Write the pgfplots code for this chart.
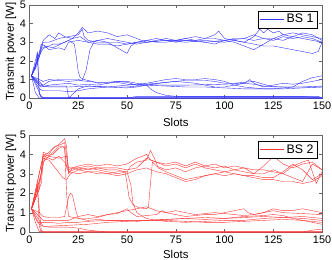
\documentclass[border=0pt]{standalone}
\usepackage{pgfplots}
\pgfplotsset{compat=1.18}
\usepackage{fontspec}
\setmainfont{Liberation Sans}
\begin{document}
\pgfplotsset{
  mybox/.style={
    scale only axis, width=295pt,
    xmin=0, xmax=150, ymin=0, ymax=5,
    xtick={0,25,50,75,100,125,150}, ytick={0,1,2,3,4,5},
    tick align=inside, xtick pos=both, ytick pos=both,
    major tick length=3pt,
    axis line style={black!60}, tick style={black!60},
    tick label style={font=\fontsize{11}{13}\selectfont},
    label style={font=\fontsize{11.5}{13}\selectfont},
    /pgf/number format/assume math mode=true,
    xlabel={Slots}, ylabel={Transmit power [W]},
    xlabel style={yshift=-2pt}, ylabel style={yshift=-3pt},
    legend style={at={(0.983,0.94)}, anchor=north east, draw=black, font=\fontsize{12.5}{14}\selectfont, inner sep=1.5pt, row sep=0pt},
    legend image code/.code={\draw[#1] (0pt,0pt) -- (25pt,0pt);},
    legend cell align=left,
    every axis plot/.append style={line width=0.4pt},
  },
}
\begin{tikzpicture}[x=1pt,y=1pt]
\path[use as bounding box] (0,0) rectangle (332,262);
\begin{axis}[mybox, at={(27pt,163pt)}, anchor=south west, height=94pt,
  cycle list={{blue!80!white}}]
\addplot coordinates {(1,1.2)(3,1.8)(5,2.4)(7,3.1)(10,3.4)(13,3.2)(15,3.5)(18,3.3)(22,3.2)(25,3.5)(27,3.8)(30,3.5)(35,3.6)(40,3.5)(45,3.3)(50,3.4)(55,3.2)(60,3.0)(65,3.1)(70,3.2)(75,3.1)(80,3.2)(85,3.3)(90,3.2)(95,3.4)(97,3.6)(100,3.2)(105,3.1)(110,3.0)(115,3.3)(118,3.7)(120,3.5)(122,3.7)(125,3.5)(128,3.6)(130,3.4)(135,3.3)(140,3.5)(145,3.4)(150,3.1)};
\legend{BS 1}
\addplot coordinates {(1,1.2)(4,2.0)(6,2.9)(8,2.8)(10,2.6)(15,2.7)(18,2.6)(20,3.0)(25,3.1)(30,3.0)(35,3.1)(40,3.0)(45,2.7)(50,2.4)(52,2.8)(55,3.0)(60,3.0)(70,3.1)(80,3.0)(90,3.1)(100,3.0)(105,3.1)(110,3.0)(115,2.9)(120,2.8)(125,2.8)(130,2.7)(135,2.6)(140,2.5)(145,2.4)(148,2.5)(150,3.0)};
\addplot coordinates {(1,1.2)(5,2.2)(7,3.0)(10,3.0)(15,3.2)(20,3.3)(25,3.4)(27,3.7)(28,3.3)(30,3.1)(35,3.0)(40,3.0)(45,3.0)(50,2.9)(55,3.0)(60,3.1)(65,3.0)(70,3.0)(75,3.1)(80,3.2)(85,3.1)(90,3.2)(95,3.2)(100,3.1)(105,3.2)(110,3.2)(115,3.4)(120,3.2)(125,3.1)(130,3.3)(135,3.2)(140,3.3)(145,3.2)(150,3.0)};
\addplot coordinates {(1,1.2)(6,2.5)(8,2.8)(12,2.7)(16,2.9)(20,3.1)(23,2.9)(24,2.2)(25,1.4)(26,1.1)(28,1.0)(32,0.9)(35,0.8)(40,0.85)(45,0.9)(50,0.9)(55,0.8)(60,0.75)(65,0.8)(70,0.85)(75,0.9)(80,0.85)(85,0.8)(90,0.7)(95,0.6)(100,0.6)(105,0.7)(110,0.8)(113,1.0)(115,0.8)(120,0.6)(125,0.7)(130,0.8)(135,0.75)(140,0.8)(145,0.9)(150,1.0)};
\addplot coordinates {(1,1.2)(5,0.8)(7,0.7)(10,0.9)(15,1.0)(20,1.0)(25,1.0)(27,0.95)(29,1.5)(31,2.6)(33,3.0)(35,3.1)(40,3.2)(45,3.1)(50,3.0)(55,2.9)(60,3.0)(70,3.1)(80,3.1)(90,3.0)(100,3.1)(110,3.2)(115,3.1)(120,3.2)(125,3.2)(130,3.1)(135,3.3)(140,3.2)(145,3.1)(150,3.0)};
\addplot coordinates {(1,1.2)(4,1.8)(6,2.7)(8,2.7)(12,2.9)(15,2.9)(18,3.0)(22,3.2)(26,3.3)(30,3.0)(35,2.9)(40,2.9)(45,2.8)(50,2.9)(55,3.0)(60,3.1)(65,3.2)(70,3.1)(75,3.0)(80,3.1)(85,3.1)(90,3.0)(95,2.9)(100,3.1)(105,3.0)(110,2.8)(115,2.6)(120,2.9)(125,3.2)(130,3.4)(135,3.5)(140,3.4)(145,3.3)(150,3.2)};
\addplot coordinates {(1,1.2)(4,0.8)(6,0.6)(10,0.7)(15,0.75)(20,0.8)(25,0.7)(30,0.75)(35,0.7)(40,0.8)(45,0.9)(50,0.85)(55,0.7)(60,0.8)(65,0.9)(70,1.0)(75,1.05)(80,1.0)(85,1.0)(90,1.05)(95,1.0)(100,0.9)(105,0.7)(110,0.6)(115,0.55)(120,0.5)(125,0.5)(130,0.55)(135,0.6)(140,0.9)(145,1.1)(150,1.2)};
\addplot coordinates {(1,1.2)(5,0.9)(7,0.65)(10,0.6)(20,0.6)(30,0.65)(40,0.6)(50,0.55)(55,0.6)(60,0.7)(70,0.85)(80,0.95)(90,0.95)(95,0.9)(100,0.8)(105,0.8)(110,0.85)(115,0.9)(120,0.75)(125,0.6)(130,0.6)(140,0.6)(150,0.6)};
\addplot coordinates {(1,1.2)(5,0.5)(7,0.4)(10,0.4)(15,0.4)(20,0.35)(25,0.4)(30,0.5)(40,0.6)(50,0.7)(55,0.75)(60,0.7)(62,0.5)(65,0.3)(70,0.15)(75,0.1)(80,0.1)(90,0.1)(100,0.1)(110,0.1)(120,0.1)(130,0.1)(140,0.1)(145,0.05)(150,0.0)};
\addplot coordinates {(1,1.2)(5,1.0)(7,0.9)(10,1.0)(15,0.95)(20,0.9)(25,0.95)(30,0.9)(35,0.85)(40,0.8)(45,0.85)(50,0.75)(55,0.7)(60,0.72)(70,0.7)(80,0.7)(90,0.72)(100,0.75)(110,0.8)(115,0.75)(120,0.65)(130,0.6)(140,0.6)(150,0.65)};
\addplot coordinates {(1,1.2)(5,0.7)(7,0.65)(10,0.65)(15,0.65)(19,0.65)(20,0.05)(22,0.0)(150,0.0)};
\addplot coordinates {(1,1.2)(3,0.3)(5,0.0)(10,0.0)(20,0.0)(22,0.2)(25,0.5)(28,0.6)(30,0.65)(40,0.6)(50,0.6)(55,0.65)(60,0.7)(70,0.65)(80,0.6)(90,0.6)(100,0.55)(110,0.5)(120,0.5)(130,0.5)(140,0.55)(150,0.6)};
\addplot coordinates {(1,1.2)(3,1.6)(4,2.5)(5,0.3)(6,0.0)(150,0.0)};
\addplot coordinates {(1,1.2)(6,0.1)(7,0.0)(50,0.0)(55,0.1)(60,0.1)(70,0.1)(100,0.1)(120,0.1)(140,0.1)(148,0.1)(150,0.0)};
\addplot coordinates {(1,1.2)(4,2.4)(5,0.2)(7,0.03)(150,0.03)};
\end{axis}
\begin{axis}[mybox, at={(27pt,28pt)}, anchor=south west, height=98pt,
  cycle list={{red!80!white}}, xlabel style={yshift=1.5pt}]
\addplot coordinates {(1,1.2)(4,2.0)(6,3.0)(7,4.1)(10,4.0)(12,4.3)(15,4.5)(17,4.7)(18,4.8)(19,4.4)(20,3.0)(22,3.3)(25,3.4)(30,3.5)(35,3.4)(40,3.5)(45,3.4)(50,3.5)(55,3.8)(58,3.9)(60,4.0)(62,3.7)(65,3.6)(70,3.5)(75,3.6)(80,3.4)(85,3.6)(90,3.4)(95,3.3)(100,3.4)(105,3.2)(110,3.3)(115,3.0)(120,3.4)(125,3.9)(130,3.5)(135,3.3)(140,3.5)(145,3.6)(150,3.2)};
\legend{BS 2}
\addplot coordinates {(1,1.2)(5,2.2)(7,4.0)(10,3.9)(13,4.2)(15,4.4)(18,4.4)(19,2.0)(20,0.8)(25,0.7)(30,0.6)(35,0.65)(40,0.6)(50,0.6)(55,0.55)(60,0.6)(70,0.65)(80,0.7)(90,0.75)(100,0.7)(110,0.75)(120,0.8)(130,0.75)(140,0.8)(150,0.7)};
\addplot coordinates {(1,1.2)(6,3.5)(7,3.9)(10,3.8)(12,3.7)(15,3.9)(18,3.6)(20,3.2)(22,3.3)(25,3.2)(30,3.3)(35,3.2)(40,3.1)(45,3.0)(50,3.1)(52,3.4)(55,3.6)(60,3.7)(62,4.2)(64,3.8)(66,3.3)(70,3.1)(75,2.9)(80,2.7)(85,2.8)(90,2.9)(95,3.0)(100,2.9)(105,3.0)(110,2.9)(115,2.8)(120,2.7)(125,2.7)(130,2.6)(135,2.6)(140,2.5)(145,2.6)(150,2.9)};
\addplot coordinates {(1,1.2)(6,3.0)(7,3.8)(10,3.7)(14,3.2)(17,2.8)(19,2.7)(21,3.0)(25,3.2)(30,3.1)(35,3.1)(40,3.0)(45,3.1)(50,3.1)(52,2.4)(53,1.5)(55,1.0)(58,0.8)(60,0.7)(65,0.6)(70,0.55)(80,0.5)(90,0.55)(100,0.6)(110,0.6)(120,0.7)(130,0.75)(140,0.7)(150,0.6)};
\addplot coordinates {(1,1.2)(6,3.0)(8,3.9)(12,4.0)(15,4.3)(17,4.4)(18,4.3)(19,3.3)(20,3.1)(25,3.3)(30,3.2)(35,3.3)(40,3.2)(45,3.2)(49,3.1)(50,2.5)(51,1.8)(53,1.4)(56,1.25)(60,1.2)(61,1.3)(62,2.5)(63,3.6)(65,3.4)(70,3.2)(75,3.3)(80,3.1)(85,3.3)(90,3.4)(95,3.5)(100,3.3)(105,3.4)(110,3.3)(115,3.2)(120,3.2)(125,3.1)(130,3.0)(135,3.4)(140,3.6)(143,3.7)(147,2.5)(150,3.1)};
\addplot coordinates {(1,1.2)(7,3.9)(10,4.1)(13,4.4)(16,4.5)(18,4.6)(19,4.0)(20,3.3)(25,3.3)(30,3.4)(35,3.3)(40,3.3)(45,3.3)(50,3.2)(55,3.3)(60,3.8)(65,3.6)(70,3.4)(75,3.5)(80,3.3)(85,3.5)(90,3.3)(95,3.2)(100,3.1)(105,3.0)(110,2.9)(115,2.9)(120,2.8)(125,2.8)(130,3.1)(135,3.5)(140,3.2)(145,2.7)(150,3.0)};
\addplot coordinates {(1,1.2)(6,2.5)(7,3.6)(10,3.9)(15,3.8)(19,3.9)(20,3.1)(25,3.0)(30,3.1)(35,3.0)(40,3.0)(45,2.9)(50,3.0)(55,3.2)(60,3.3)(65,3.1)(70,3.0)(75,2.8)(80,2.6)(85,2.7)(90,2.9)(95,3.0)(100,3.1)(105,3.2)(110,3.1)(115,3.0)(120,3.0)(125,3.2)(130,3.0)(135,2.8)(140,2.6)(145,3.5)(150,3.2)};
\addplot coordinates {(1,1.2)(5,1.0)(7,0.8)(10,0.75)(15,0.75)(18,0.8)(20,1.8)(21,2.0)(22,1.9)(24,1.0)(25,0.7)(30,0.7)(35,0.75)(40,0.9)(45,0.95)(50,1.2)(52,1.0)(55,0.8)(60,0.85)(65,0.9)(68,1.1)(70,1.0)(75,0.9)(80,0.8)(85,0.85)(90,0.9)(95,0.9)(100,1.0)(105,1.1)(110,1.2)(112,1.0)(115,0.9)(120,1.0)(125,1.2)(130,1.1)(135,1.1)(140,1.2)(145,1.1)(150,1.0)};
\addplot coordinates {(1,1.2)(5,0.8)(7,0.6)(10,0.6)(20,0.6)(25,0.8)(30,0.9)(35,0.8)(40,0.9)(45,1.0)(50,1.1)(55,1.2)(60,1.3)(65,1.1)(70,1.0)(75,1.1)(80,1.0)(85,0.9)(90,0.95)(95,1.0)(100,0.95)(105,0.9)(110,0.85)(115,0.9)(120,1.0)(125,1.1)(130,1.0)(140,0.95)(150,0.9)};
\addplot coordinates {(1,1.2)(4,0.5)(6,0.5)(10,0.5)(15,0.45)(20,0.5)(25,0.5)(30,0.55)(40,0.6)(50,0.6)(60,0.6)(70,0.65)(80,0.7)(90,0.65)(100,0.7)(110,0.8)(120,0.85)(125,0.9)(130,0.85)(135,0.7)(140,0.6)(150,0.5)};
\addplot coordinates {(1,1.2)(5,0.4)(7,0.3)(10,0.3)(20,0.35)(30,0.4)(40,0.5)(50,0.55)(60,0.6)(70,0.6)(80,0.55)(90,0.5)(100,0.5)(110,0.55)(120,0.6)(130,0.65)(140,0.6)(150,0.4)};
\addplot coordinates {(1,1.2)(5,0.6)(7,0.3)(10,0.25)(20,0.25)(25,0.2)(30,0.1)(35,0.05)(40,0.0)(150,0.0)};
\addplot coordinates {(1,1.2)(3,1.7)(4,2.5)(5,0.3)(6,0.0)(150,0.0)};
\addplot coordinates {(1,1.2)(4,2.3)(6,0.1)(7,0.0)(140,0.0)(145,0.1)(150,0.15)};
\addplot coordinates {(1,1.2)(3,0.5)(5,0.02)(150,0.02)};
\end{axis}
\end{tikzpicture}
\end{document}
